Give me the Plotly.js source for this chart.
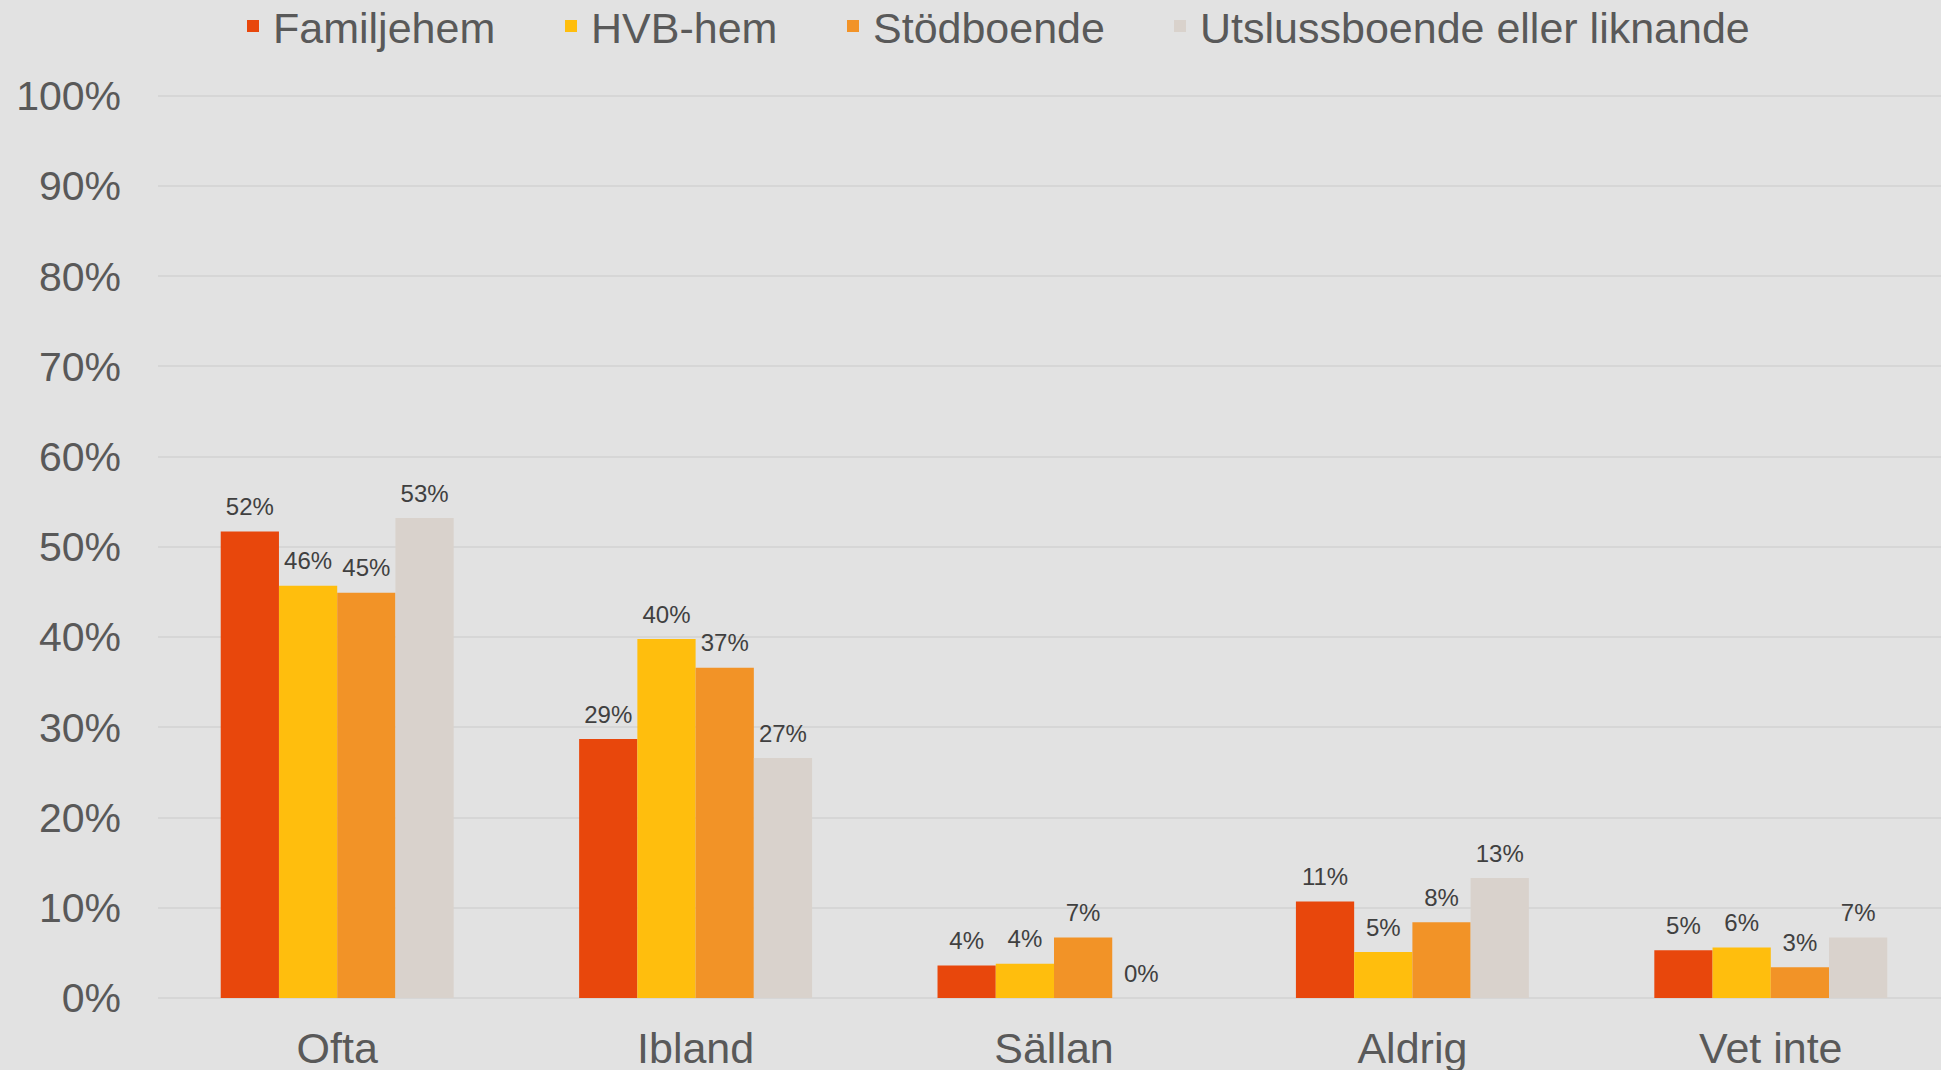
<!DOCTYPE html>
<html>
<head>
<meta charset="utf-8">
<script src="https://cdn.plot.ly/plotly-3.0.1.min.js"></script>
<style>
  html, body { margin: 0; padding: 0; background: #E2E2E2; overflow: hidden; }
  #chart { width: 1950px; height: 1070px; }
</style>
</head>
<body>
<div id="chart"></div>
<script>
const categories = ["Ofta", "Ibland", "Sällan", "Aldrig", "Vet inte"];
const seriesNames = ["Familjehem", "HVB-hem", "Stödboende", "Utslussboende eller liknande"];
const familjehem = [0.517, 0.287, 0.036, 0.107, 0.053];
const hvbHem = [0.457, 0.398, 0.038, 0.051, 0.056];
const stodboende = [0.449, 0.366, 0.067, 0.084, 0.034];
const utsluss = [0.532, 0.266, 0.0, 0.133, 0.067];
const yTickVals = [0, 0.1, 0.2, 0.3, 0.4, 0.5, 0.6, 0.7, 0.8, 0.9, 1.0];

const W = 1950, H = 1070;
const M = { l: 158, r: 0, t: 93, b: 72, autoexpand: false };
const plotH = H - M.t - M.b;

const colors = ["#E8470C", "#FFBE0D", "#F29327", "#D9D2CC"];
const allValues = [familjehem, hvbHem, stodboende, utsluss];
const legendIds = ["legend", "legend2", "legend3", "legend4"];
const legendX = [233, 551, 833, 1160];

const barTraces = allValues.map((vals, i) => ({
  type: "bar",
  name: seriesNames[i],
  x: categories,
  y: vals,
  legend: legendIds[i],
  marker: { color: colors[i], line: { width: 0 } },
  hoverinfo: "skip"
}));

const labelTraces = allValues.map((vals, i) => ({
  type: "scatter",
  mode: "markers+text",
  x: categories,
  y: vals,
  text: vals.map(v => Math.round(v * 100) + "%"),
  textposition: "top center",
  marker: { size: 15, opacity: 0, color: colors[i] },
  textfont: { family: "Liberation Sans, Arial, sans-serif", size: 24, color: "#404040" },
  cliponaxis: false,
  showlegend: false,
  hoverinfo: "skip"
}));

function legendAt(i) {
  return {
    orientation: "h",
    xref: "container",
    x: legendX[i] / W,
    xanchor: "left",
    yref: "paper",
    y: 1 + (M.t - 26) / plotH,
    yanchor: "middle",
    font: { family: "Liberation Sans, Arial, sans-serif", size: 43, color: "#595959" },
    bgcolor: "rgba(0,0,0,0)",
    borderwidth: 0
  };
}

const layout = {
  width: W,
  height: H,
  paper_bgcolor: "#E2E2E2",
  plot_bgcolor: "#E2E2E2",
  margin: M,
  barmode: "group",
  bargap: 0.35,
  bargroupgap: 0,
  scattermode: "group",
  scattergap: 0.35,
  font: { family: "Liberation Sans, Arial, sans-serif", color: "#595959" },
  showlegend: true,
  legend: legendAt(0),
  legend2: legendAt(1),
  legend3: legendAt(2),
  legend4: legendAt(3),
  xaxis: {
    type: "category",
    showgrid: false,
    zeroline: false,
    showline: false,
    ticks: "outside",
    ticklen: 12,
    tickcolor: "rgba(0,0,0,0)",
    tickfont: { size: 43, color: "#595959" },
    automargin: false,
    fixedrange: true
  },
  yaxis: {
    range: [0, 1.003],
    tickvals: yTickVals,
    tickformat: ".0%",
    showgrid: true,
    gridcolor: "#D6D6D6",
    gridwidth: 2,
    zeroline: true,
    zerolinecolor: "#D6D6D6",
    zerolinewidth: 2,
    showline: false,
    ticks: "",
    ticklabelstandoff: 36,
    tickfont: { size: 41, color: "#595959" },
    automargin: false,
    fixedrange: true
  }
};

Plotly.newPlot("chart", barTraces.concat(labelTraces), layout, { displayModeBar: false, staticPlot: true });
</script>
</body>
</html>
